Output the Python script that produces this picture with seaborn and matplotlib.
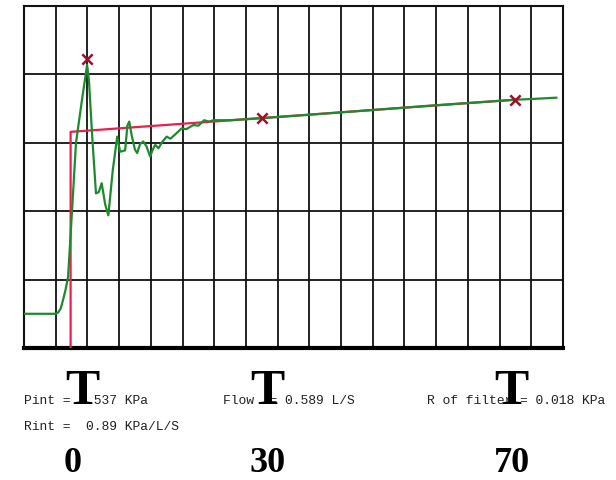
import matplotlib
matplotlib.use("Agg")
import matplotlib.pyplot as plt
import seaborn as sns
import pandas as pd

# ---- data (grid units: x = column, y = row) ----
green_x = [0, 1.0, 1.08, 1.16, 1.23, 1.31, 1.39, 1.45, 1.51, 1.64, 1.82, 1.99, 2.05, 2.15,
           2.27, 2.36, 2.45, 2.56, 2.66, 2.8, 2.94, 3.03, 3.12, 3.19, 3.26, 3.32, 3.4, 3.5,
           3.57, 3.66, 3.76, 3.86, 3.98, 4.06, 4.14, 4.24, 4.37, 4.5, 4.62, 4.81, 4.97, 5.12,
           5.34, 5.5, 5.68, 5.83, 5.98, 6.5, 7.5, 9, 11, 13, 15.5, 16, 16.8]
green_y = [0.5, 0.5, 0.52, 0.58, 0.70, 0.85, 1.04, 1.5, 1.97, 3.0, 3.6, 4.14, 3.9, 3.1,
           2.26, 2.28, 2.41, 2.1, 1.94, 2.6, 3.09, 2.87, 2.88, 2.89, 3.25, 3.31, 3.1, 2.9,
           2.85, 2.98, 3.02, 2.95, 2.80, 2.9, 2.97, 2.92, 3.02, 3.09, 3.06, 3.14, 3.21, 3.2,
           3.26, 3.25, 3.33, 3.31, 3.33, 3.33, 3.36, 3.41, 3.48, 3.55, 3.63, 3.64, 3.66]
red_x = [1.47, 1.47, 15.5]
red_y = [0.0, 3.16, 3.63]
mark_x = [1.99, 7.5, 15.5]
mark_y = [4.22, 3.36, 3.63]

t_x = [82, 267, 511]            # pixel centres of the "T" cursors
num_labels = ["0", "30", "70"]
num_x = [73, 268, 512]
info_row1 = ["Pint = 1.537 KPa", "Flow  = 0.589 L/S", "R of filter = 0.018 KPa"]
info_row1_x = [24, 223, 427]
info_row2 = "Rint =  0.89 KPa/L/S"

W, H = 616, 480
sns.set_style("white")
fig = plt.figure(figsize=(W / 100, H / 100), dpi=100)
ax = fig.add_axes([24 / W, 1 - 348 / H, (563 - 24) / W, (348 - 6) / H])

gdf = pd.DataFrame({"x": green_x, "y": green_y})
rdf = pd.DataFrame({"x": red_x, "y": red_y})
mdf = pd.DataFrame({"x": mark_x, "y": mark_y})

sns.lineplot(data=rdf, x="x", y="y", sort=False, estimator=None, ax=ax,
             color="#e8204e", lw=1.6, zorder=3)
sns.lineplot(data=gdf, x="x", y="y", sort=False, estimator=None, ax=ax,
             color="#1e8a30", lw=1.6, zorder=4)
sns.scatterplot(data=mdf, x="x", y="y", ax=ax, marker="x", s=55, color="#a0102c",
                linewidth=1.8, zorder=5)

ax.set_xlim(0, 17)
ax.set_ylim(0, 5)
ax.set_xticks(range(18))
ax.set_yticks(range(6))
ax.grid(True, color="#111111", lw=1.3)
ax.set_axisbelow(True)
ax.tick_params(length=0, labelbottom=False, labelleft=False)
ax.set_xlabel("")
ax.set_ylabel("")
for s in ["top", "left", "right"]:
    ax.spines[s].set_color("#111111")
    ax.spines[s].set_linewidth(1.5)
ax.spines["bottom"].set_color("black")
ax.spines["bottom"].set_linewidth(3)

mono = dict(family="Liberation Mono", fontsize=9.4, color="#222222")
for txt, px in zip(info_row1, info_row1_x):
    fig.text(px / W, 1 - 401 / H, txt, ha="left", va="center", **mono)
fig.text(24 / W, 1 - 427 / H, info_row2, ha="left", va="center", **mono)

for px in t_x:
    fig.text(px / W, 1 - 392 / H, "T", ha="center", va="center",
             family="Liberation Serif", fontweight="bold", fontsize=37, color="black")
for px, lab in zip(num_x, num_labels):
    fig.text(px / W, 1 - 463 / H, lab, ha="center", va="center",
             family="Liberation Serif", fontweight="bold", fontsize=26, color="black")

fig.savefig("out.png", dpi=100)
